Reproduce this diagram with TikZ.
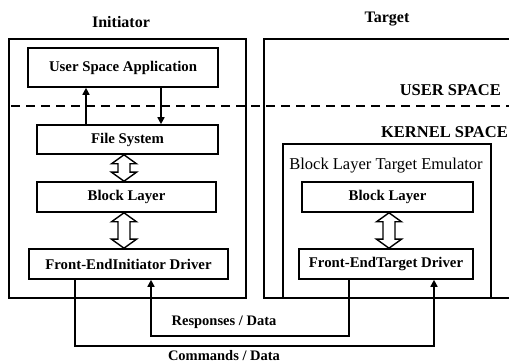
\documentclass[tikz,border=0pt]{standalone}
\usepackage{fontspec}
\setmainfont{Liberation Serif}
\usetikzlibrary{arrows.meta,calc}

% hollow two-way arrow between two points (first one above the second)
\newcommand\twoway[2]{%
  \path[hollow] let \p1=(#1), \p2=(#2) in
    (\x1,\y1) -- (\x1+12.5pt,\y1-9pt) -- (\x1+6pt,\y1-9pt) -- (\x1+6pt,\y2+9pt)
    -- (\x1+12.5pt,\y2+9pt) -- (\x1,\y2) -- (\x1-12.5pt,\y2+9pt) -- (\x1-6pt,\y2+9pt)
    -- (\x1-6pt,\y1-9pt) -- (\x1-12.5pt,\y1-9pt) -- cycle;}

\begin{document}
\begin{tikzpicture}[x=1pt,y=-1pt,
  box/.style={draw, line width=1.6pt, inner sep=0pt,
    font=\bfseries\fontsize{14.8}{16}\selectfont},
  frame/.style={draw, line width=1.8pt},
  link/.style={line width=1.6pt, -{Triangle[length=7pt,width=7pt]}},
  hollow/.style={draw, line width=1.4pt, fill=white, line join=miter},
  title/.style={font=\bfseries\fontsize{16}{18}\selectfont},
  space/.style={font=\bfseries\fontsize{16.5}{18}\selectfont, inner sep=0pt},
  label/.style={font=\bfseries\fontsize{14.5}{16}\selectfont, inner sep=0pt},
  divider/.style={line width=1.8pt, dash pattern=on 8.5pt off 6.5pt}]
\useasboundingbox (0,0) rectangle (509,363);
\clip (0,0) rectangle (509,363);

% host frames
\draw[frame] (9,39) rectangle (246,298);
\draw[frame] (264,39) rectangle (520,298);
\node[title] (tinit) at (121,22) {Initiator};
\node[title] (ttarg) at (387,19) {Target};

% user / kernel boundary
\draw[divider] (11,106) -- (509,106);
\node[space, anchor=east] (us) at (501,90) {USER SPACE};
\node[space, anchor=east] (ks) at (508,132) {KERNEL SPACE};

% initiator stack
\node[box, minimum width=190pt, minimum height=39pt] (usa) at (123,67.5) {User Space Application};
\node[box, minimum width=181pt, minimum height=29pt] (fs) at (127.5,139.5) {File System};
\node[box, minimum width=179pt, minimum height=30pt] (bl) at (126.5,197) {Block Layer};
\node[box, minimum width=199pt, minimum height=30pt] (feid) at (128.5,264) {Front-EndInitiator Driver};

% target emulator
\draw[frame] (283,144) rectangle (491,298);
\node[font=\fontsize{16.5}{18}\selectfont] (emu) at (386,166) {Block Layer Target Emulator};
\node[box, minimum width=171pt, minimum height=30pt] (tbl) at (387.5,197) {Block Layer};
\node[box, minimum width=174pt, minimum height=30pt] (fetd) at (386,264) {Front-EndTarget Driver};

% application <-> file system
\coordinate (xup) at (86,0);
\coordinate (xdown) at (161,0);
\draw[link] (xup |- fs.north) -- (xup |- usa.south);
\draw[link] (xdown |- usa.south) -- (xdown |- fs.north);

% two-way block transfers
\coordinate (ha) at (124,0);
\coordinate (hb) at (389,0);
\twoway{ha |- fs.south}{ha |- bl.north}
\twoway{ha |- bl.south}{ha |- feid.north}
\twoway{hb |- tbl.south}{hb |- fetd.north}

% commands and responses between the drivers
\coordinate (xcmdA) at (75,0);
\coordinate (xcmdB) at (434,0);
\coordinate (ycmd) at (0,346);
\coordinate (xresA) at (349,0);
\coordinate (xresB) at (151,0);
\coordinate (yres) at (0,336);
\draw[link] (xcmdA |- feid.south) -- (xcmdA |- ycmd) -- (xcmdB |- ycmd) -- (xcmdB |- fetd.south);
\draw[link] (xresA |- fetd.south) -- (xresA |- yres) -- (xresB |- yres) -- (xresB |- feid.south);
\node[label] (lres) at (224,322) {Responses / Data};
\node[label] (lcmd) at (224,355.5) {Commands / Data};
\end{tikzpicture}
\end{document}
